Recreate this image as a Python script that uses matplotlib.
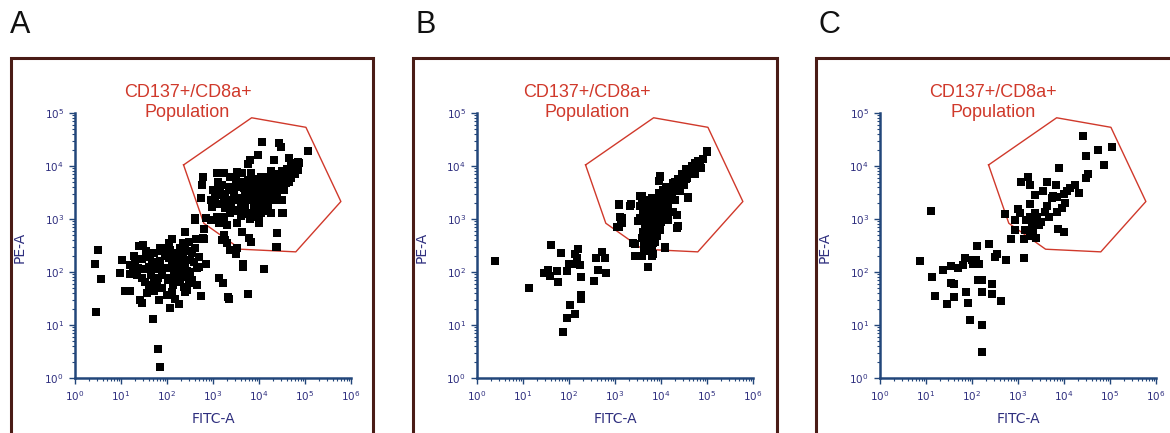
import matplotlib
matplotlib.use("Agg")
import matplotlib.pyplot as plt
from matplotlib.patches import Rectangle
import numpy as np

# all values are log10 of the fluorescence intensity
panel_names = ["A", "B", "C"]
gate_text = "CD137+/CD8a+\nPopulation"
x_label = "FITC-A"
y_label = "PE-A"

# gate polygon (same in every panel)
gate_fitc_log = [2.36, 3.84, 5.02, 5.78, 4.80, 3.60, 2.80]
gate_pe_log = [4.02, 4.91, 4.73, 3.33, 2.38, 2.43, 2.92]

# panel A
a_fitc_log = [
    0.51, 0.44, 0.57, 0.46, 1.02, 1.20, 0.98, 1.20, 1.29, 1.40, 1.48, 1.09, 1.19, 1.42, 1.56,
    1.38, 1.45, 1.53, 1.65, 1.71, 1.78, 1.67, 1.64, 1.71, 1.85, 1.99, 2.11, 2.07, 2.04, 1.93,
    2.01, 2.07, 2.18, 2.25, 2.33, 2.40, 2.47, 2.62, 2.80, 2.55, 2.69, 2.51, 2.33, 2.44, 2.66,
    2.36, 2.22, 2.29, 2.36, 2.44, 2.66, 2.47, 2.73, 2.84, 1.82, 2.00, 2.18, 2.25, 2.07, 1.70,
    1.80, 1.85, 3.13, 3.22, 3.33, 3.77, 3.66, 3.66, 1.45,
    1.30, 1.35, 1.50, 1.60, 1.75, 1.85, 1.90, 1.95, 2.10, 2.15, 2.20, 2.28, 2.30, 2.40, 2.50,
    2.55, 2.60, 1.55, 1.60, 2.12, 2.40, 1.90, 2.35, 2.05,
    1.25, 1.45, 1.65, 1.80, 1.88, 2.02, 2.15, 2.25, 2.35, 2.45, 2.52, 2.58, 2.70, 1.72, 2.10,
    4.07, 4.44, 4.47, 5.07, 3.98, 3.80, 3.76, 4.33, 4.65, 4.76, 4.87, 2.79, 2.76, 2.74, 3.09,
    3.24, 3.38, 3.53, 3.64, 3.82, 3.75, 3.96, 4.18, 4.40, 4.58, 4.73, 4.62, 4.47, 4.33, 4.22,
    4.07, 3.93, 3.82, 3.67, 3.53, 3.38, 3.27, 3.16, 3.05, 2.95, 2.98, 3.09, 3.24, 3.42, 3.60,
    3.75, 3.89, 4.04, 4.18, 4.33, 4.40, 4.55, 4.51, 4.25, 4.04, 3.89, 3.71, 3.53, 3.38, 3.24,
    3.09, 2.95, 2.84, 2.60, 2.80, 3.13, 3.31, 3.53, 3.64, 3.78, 3.82, 4.00, 4.40, 4.36, 3.24,
    3.27, 3.38, 3.53, 4.51, 4.25, 4.15, 4.84, 4.69, 4.58,
    4.11, 3.35, 4.39, 4.39, 4.52, 3.51, 3.42, 3.31, 3.20, 2.60, 2.79, 2.81, 2.40,
    3.90, 4.00, 4.10, 4.20, 4.30, 4.45, 4.55, 4.60, 4.70, 4.80, 4.35, 4.10, 3.95, 3.70, 3.85,
    4.05, 4.25, 3.60, 3.45, 4.65, 4.50, 4.40, 3.80, 4.15,
    3.00, 3.10, 3.20, 3.30, 3.35, 3.45, 3.50, 3.55, 3.65, 3.70, 3.75, 3.85, 3.90, 3.95, 4.00,
    4.05, 4.10, 4.15, 4.20, 4.25, 4.30, 4.35, 4.40, 4.45, 4.50, 4.55, 4.60, 4.65, 4.70, 4.75,
    4.78, 4.85, 3.25, 3.40, 3.60, 3.75, 3.90, 4.00, 4.20, 3.15,
]
a_pe_log = [
    2.42, 2.16, 1.87, 1.24, 2.23, 2.13, 1.98, 1.96, 2.31, 2.50, 2.51, 1.64, 1.64, 1.47, 1.60,
    2.07, 1.88, 1.82, 1.94, 1.79, 1.79, 2.19, 2.29, 2.35, 2.45, 2.46, 2.62, 2.42, 2.26, 2.07,
    2.07, 1.88, 2.10, 2.19, 2.32, 2.42, 2.57, 2.62, 2.62, 2.35, 2.29, 2.23, 2.07, 2.01, 2.07,
    1.91, 1.88, 1.82, 1.72, 1.66, 1.75, 1.79, 1.55, 2.16, 1.47, 1.57, 1.49, 1.40, 1.32, 1.11,
    0.54, 0.21, 1.88, 1.80, 1.52, 1.58, 2.10, 2.15, 1.41,
    2.20, 1.95, 2.05, 2.10, 2.05, 2.20, 1.95, 2.30, 2.15, 1.95, 2.35, 2.45, 1.98, 2.15, 2.00,
    1.85, 2.45, 2.40, 1.75, 1.75, 1.62, 1.70, 2.55, 2.55,
    2.05, 2.25, 2.00, 1.88, 2.40, 1.85, 2.28, 2.05, 2.30, 1.95, 2.40, 2.18, 2.10, 1.65, 1.62,
    4.46, 4.43, 4.36, 4.28, 4.21, 4.11, 4.04, 4.11, 4.15, 4.05, 4.05, 3.80, 3.64, 3.39, 3.86,
    3.86, 3.80, 3.89, 3.86, 3.86, 3.74, 3.71, 3.80, 3.80, 3.89, 3.96, 3.80, 3.67, 3.58, 3.48,
    3.39, 3.55, 3.48, 3.58, 3.61, 3.55, 3.48, 3.55, 3.42, 3.36, 3.23, 3.29, 3.32, 3.36, 3.39,
    3.36, 3.29, 3.23, 3.29, 3.36, 3.48, 3.55, 3.12, 3.11, 3.11, 3.04, 3.11, 3.17, 3.11, 3.04,
    3.04, 2.98, 3.01, 3.01, 2.82, 2.92, 2.89, 2.92, 2.76, 2.64, 2.57, 2.92, 2.74, 2.48, 2.70,
    2.60, 2.42, 2.45, 3.36, 3.55, 3.64, 3.92, 3.77, 3.67,
    2.06, 1.50, 2.74, 2.47, 3.11, 2.34, 2.42, 2.54, 2.60, 2.99, 2.64, 2.82, 2.75,
    3.50, 3.60, 3.45, 3.60, 3.70, 3.75, 3.85, 3.95, 3.90, 4.00, 3.45, 3.30, 3.20, 3.45, 3.65,
    3.80, 3.90, 3.25, 3.15, 3.70, 3.60, 3.55, 3.00, 3.15,
    3.55, 3.70, 3.65, 3.35, 3.60, 3.50, 3.75, 3.35, 3.70, 3.20, 3.55, 3.40, 3.75, 3.35, 3.45,
    3.25, 3.65, 3.50, 3.35, 3.75, 3.55, 3.65, 3.85, 3.65, 3.90, 3.70, 3.80, 3.85, 4.00, 3.95,
    3.85, 4.08, 3.20, 3.25, 3.05, 3.10, 3.15, 3.05, 3.20, 3.45,
]

# panel B
b_fitc_log = [
    0.39, 1.13, 1.46, 1.54, 1.60, 1.59, 1.73, 1.75, 1.82, 1.95, 1.99, 2.06, 2.13, 2.20, 2.17,
    2.24, 2.25, 2.25, 2.25, 2.02, 2.13, 1.95, 1.88, 2.54, 2.59, 2.64, 2.71, 2.78, 2.80, 3.05,
    3.11, 3.14, 3.09, 3.35, 3.40, 3.43, 3.51, 3.54, 3.59, 3.72, 3.82, 3.69, 3.78, 3.98, 3.96,
    4.09, 4.36, 4.92, 5.01, 4.81, 4.88, 4.59, 4.49, 4.27, 4.30,
    4.99, 4.92, 4.81, 4.70, 4.59, 4.74, 4.56, 4.45, 4.49, 4.34, 4.30, 4.20, 4.12, 4.23, 4.01,
    3.98, 3.96, 4.59, 4.41, 3.91, 3.80, 3.58, 3.58, 3.69, 3.80, 3.94, 4.05, 4.16, 4.27, 3.65,
    3.76, 3.87, 4.01, 4.16, 4.34, 3.69, 3.80, 3.91, 3.54, 3.72, 3.87, 3.98, 3.76, 3.91, 3.69,
    3.87, 4.34, 4.09, 3.80, 3.72, 3.62, 3.44, 3.80, 3.54, 3.33, 3.08, 3.15, 3.15, 3.08,
    3.75, 3.85, 3.95, 4.05, 3.70, 3.80, 3.90, 4.00, 4.10, 3.75, 3.85, 3.65, 4.20, 4.40, 4.55,
    4.65, 3.95, 3.85, 3.75,
    3.60, 3.65, 3.70, 3.75, 3.80, 3.85, 3.90, 3.95, 4.00, 3.60, 3.65, 3.70, 3.78, 3.88, 3.95,
    4.05, 4.10, 4.15, 4.25, 4.30, 4.38, 4.45, 4.50, 4.55, 4.62, 4.68, 4.75, 4.80, 4.85, 4.00,
    4.08, 3.62, 3.72, 3.82, 3.58,
]
b_pe_log = [
    2.21, 1.69, 1.99, 2.04, 2.51, 1.92, 2.01, 1.81, 2.36, 2.01, 2.15, 2.16, 2.34, 2.44, 2.26,
    2.13, 1.91, 1.57, 1.50, 1.38, 1.21, 1.13, 0.86, 1.83, 2.26, 2.03, 2.38, 2.26, 1.99, 2.84,
    3.04, 2.95, 3.28, 3.28, 2.54, 2.30, 2.97, 3.43, 2.30, 2.10, 2.34, 2.57, 2.54, 3.80, 3.72,
    2.47, 2.87, 4.14, 4.28, 3.99, 3.97, 3.42, 3.67, 3.67, 3.36,
    4.26, 4.13, 4.00, 3.93, 3.87, 3.84, 3.78, 3.75, 3.65, 3.65, 3.56, 3.52, 3.43, 3.43, 3.37,
    3.81, 3.71, 3.40, 3.52, 3.27, 3.40, 3.43, 3.30, 3.24, 3.18, 3.14, 3.21, 3.24, 3.14, 3.11,
    3.05, 3.02, 3.05, 2.99, 3.08, 2.95, 2.89, 2.92, 3.02, 2.80, 2.80, 2.80, 2.70, 2.67, 2.57,
    2.57, 2.83, 2.46, 2.46, 2.40, 2.53, 2.53, 2.30, 3.24, 3.24, 3.27, 3.02, 2.93, 2.84,
    3.10, 3.20, 3.30, 3.40, 2.90, 2.95, 3.10, 3.15, 3.35, 2.70, 2.85, 2.75, 3.45, 3.60, 3.75,
    3.85, 2.95, 3.15, 3.30,
    2.75, 2.90, 3.05, 2.65, 2.85, 3.00, 2.75, 2.90, 3.20, 3.10, 3.35, 2.60, 3.30, 3.35, 3.50,
    3.55, 3.60, 3.35, 3.55, 3.70, 3.75, 3.85, 3.80, 3.95, 3.90, 4.00, 4.05, 4.10, 4.05, 2.95,
    3.10, 2.45, 2.40, 2.55, 2.65,
]

# panel C
c_fitc_log = [
    0.88, 1.10, 1.14, 1.20, 1.38, 1.45, 1.54, 1.54, 1.61, 1.61, 1.70, 1.80, 1.85, 1.87, 1.92,
    1.96, 1.99, 2.03, 2.09, 2.10, 2.16, 2.14, 2.21, 2.21, 2.21, 2.22, 2.36, 2.44, 2.43, 2.50,
    2.54, 2.63, 2.74, 2.72, 2.85, 2.93, 3.01, 3.04, 3.07, 3.12, 3.14, 3.15, 3.17, 3.22, 3.25,
    3.26, 3.26, 3.33, 3.37, 3.39, 3.37, 3.46, 3.51, 3.54, 3.59, 3.62, 3.64, 3.68, 3.73, 3.77,
    3.83, 3.84, 3.86, 3.90, 3.95, 3.99, 3.99, 4.02, 4.06, 4.12, 4.24, 4.33, 4.41, 4.47, 4.48,
    4.53, 4.73, 4.86, 5.04, 3.84, 3.41, 3.26, 2.93, 3.31, 3.42,
]
c_pe_log = [
    2.21, 3.16, 1.91, 1.55, 2.03, 1.39, 2.11, 1.79, 1.77, 1.53, 2.08, 2.13, 2.26, 1.63, 1.41,
    1.09, 2.23, 2.16, 2.23, 2.49, 2.16, 1.84, 1.85, 1.62, 1.00, 0.50, 2.52, 1.77, 1.58, 2.29,
    2.34, 1.46, 2.23, 3.09, 2.62, 2.98, 3.18, 3.11, 3.69, 2.26, 2.62, 2.79, 2.98, 3.79, 3.04,
    3.64, 3.28, 2.76, 3.45, 2.65, 3.11, 2.89, 2.95, 3.52, 3.14, 3.70, 3.25, 3.04, 3.39, 3.43,
    3.64, 3.14, 2.82, 3.97, 3.20, 3.48, 2.76, 3.30, 3.52, 3.58, 3.64, 3.50, 4.57, 4.19, 3.78,
    3.85, 4.30, 4.01, 4.35, 3.42, 2.92, 2.67, 2.79, 2.89, 3.04,
]

fitc_sets = [a_fitc_log, b_fitc_log, c_fitc_log]
pe_sets = [a_pe_log, b_pe_log, c_pe_log]

axis_col = "#22467a"
tick_col = "#2e2e7e"
red = "#d0392b"
frame_col = "#4a1c16"

fig = plt.figure(figsize=(11.7, 4.33), dpi=100)

ax_lefts = [75 / 1170, 477 / 1170, 880 / 1170]
frame_lefts = [11 / 1170, 413 / 1170, 816 / 1170]
frame_widths = [362 / 1170, 364 / 1170, 400 / 1170]
title_x = [0.408, 0.40, 0.41]
letter_x = [10 / 1170, 415 / 1170, 818 / 1170]

for i in range(3):
    # panel frame, open at the bottom
    fig.patches.append(Rectangle((frame_lefts[i], -0.2), frame_widths[i], 1.2 - 58 / 433,
                                 transform=fig.transFigure, fill=False,
                                 edgecolor=frame_col, linewidth=2.2, clip_on=False))
    fig.text(letter_x[i], 1 - 25 / 433, panel_names[i], fontsize=22,
             family="Liberation Sans", va="center", ha="left", color="#111111")

    ax = fig.add_axes([ax_lefts[i], 1 - 378 / 433, 276 / 1170, 265 / 433])
    ax.set_xscale("log")
    ax.set_yscale("log")
    ax.set_xlim(1, 1e6)
    ax.set_ylim(1, 1e5)

    gx = 10 ** np.array(gate_fitc_log + gate_fitc_log[:1])
    gy = 10 ** np.array(gate_pe_log + gate_pe_log[:1])
    ax.plot(gx, gy, color=red, linewidth=1.0, zorder=2)

    ax.plot(10 ** np.array(fitc_sets[i]), 10 ** np.array(pe_sets[i]), "s",
            color="black", markersize=5.2, markeredgewidth=0, zorder=3, clip_on=False)

    for s in ["top", "right"]:
        ax.spines[s].set_visible(False)
    for s in ["left", "bottom"]:
        ax.spines[s].set_color(axis_col)
        ax.spines[s].set_linewidth(1.8)
    ax.set_xticks([10 ** k for k in range(7)])
    ax.set_yticks([10 ** k for k in range(6)])
    ax.tick_params(which="major", direction="out", length=4, width=1, color=axis_col,
                   labelsize=7.5, labelcolor=tick_col, pad=4)
    ax.tick_params(which="minor", direction="out", length=2.5, width=0.8, color=axis_col)
    ax.set_xlabel(x_label, fontsize=10, color=tick_col)
    ax.set_ylabel(y_label, fontsize=10, color=tick_col)
    ax.xaxis.set_label_coords(0.5, -0.128)
    ax.yaxis.set_label_coords(-0.175, 0.494)
    ax.text(title_x[i], 1.04, gate_text, transform=ax.transAxes, ha="center", va="center",
            fontsize=13, color=red, family="Liberation Sans", linespacing=1.2)
    ax.set_facecolor("none")

fig.savefig("out.png", dpi=100)
